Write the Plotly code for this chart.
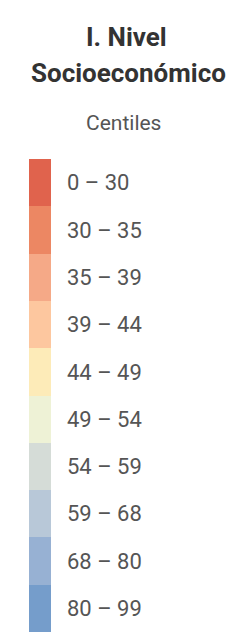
import plotly.graph_objects as go

title_lines = ["I. Nivel", "Socioeconómico"]
subtitle = "Centiles"
class_labels = ["0 – 30", "30 – 35", "35 – 39", "39 – 44", "44 – 49",
                "49 – 54", "54 – 59", "59 – 68", "68 – 80", "80 – 99"]
class_colors = ["#e0634d", "#ec8763", "#f5a987", "#fdc79f", "#fdebb8",
                "#eef2d6", "#d5dcd7", "#b8c8d8", "#97b1d3", "#759dcb"]
swatch_size = [1] * len(class_labels)

# the page body adds an 8px offset; figure is sized so it ends at the window edge
W, H = 239, 624
L, T, B = 21, 151, 0
PW = 22
R = W - L - PW
PH = H - T - B


def px_x(px):
    return (px - L) / PW


def px_y(py):
    return 1 + (T - py) / PH


fig = go.Figure(go.Bar(
    x=swatch_size, y=class_labels, orientation="h",
    marker=dict(color=class_colors, line=dict(width=0)),
    width=1, hoverinfo="skip", showlegend=False,
))

title_font = dict(family="Roboto", size=26, weight="bold", color="#333333")
annotations = [
    dict(text=title_lines[0], x=px_x(118), y=px_y(29), font=title_font),
    dict(text=title_lines[1], x=px_x(120), y=px_y(64.5), font=title_font),
    dict(text=subtitle, x=px_x(115.5), y=px_y(115),
         font=dict(family="Roboto", size=21, color="#555555")),
]
for a in annotations:
    a.update(xref="paper", yref="paper", xanchor="center", yanchor="middle",
             showarrow=False)

fig.update_layout(
    width=W, height=H,
    margin=dict(l=L, r=R, t=T, b=B, pad=0),
    paper_bgcolor="white", plot_bgcolor="white",
    bargap=0,
    font=dict(family="Roboto", color="#555555"),
    xaxis=dict(visible=False, range=[0, 1], fixedrange=True),
    yaxis=dict(side="right", autorange="reversed", showgrid=False,
               zeroline=False, showline=False, ticks="", automargin=False,
               ticklabelstandoff=15, fixedrange=True,
               tickfont=dict(family="Roboto", size=22, color="#555555")),
    annotations=annotations,
)

fig.write_html("out.html")
